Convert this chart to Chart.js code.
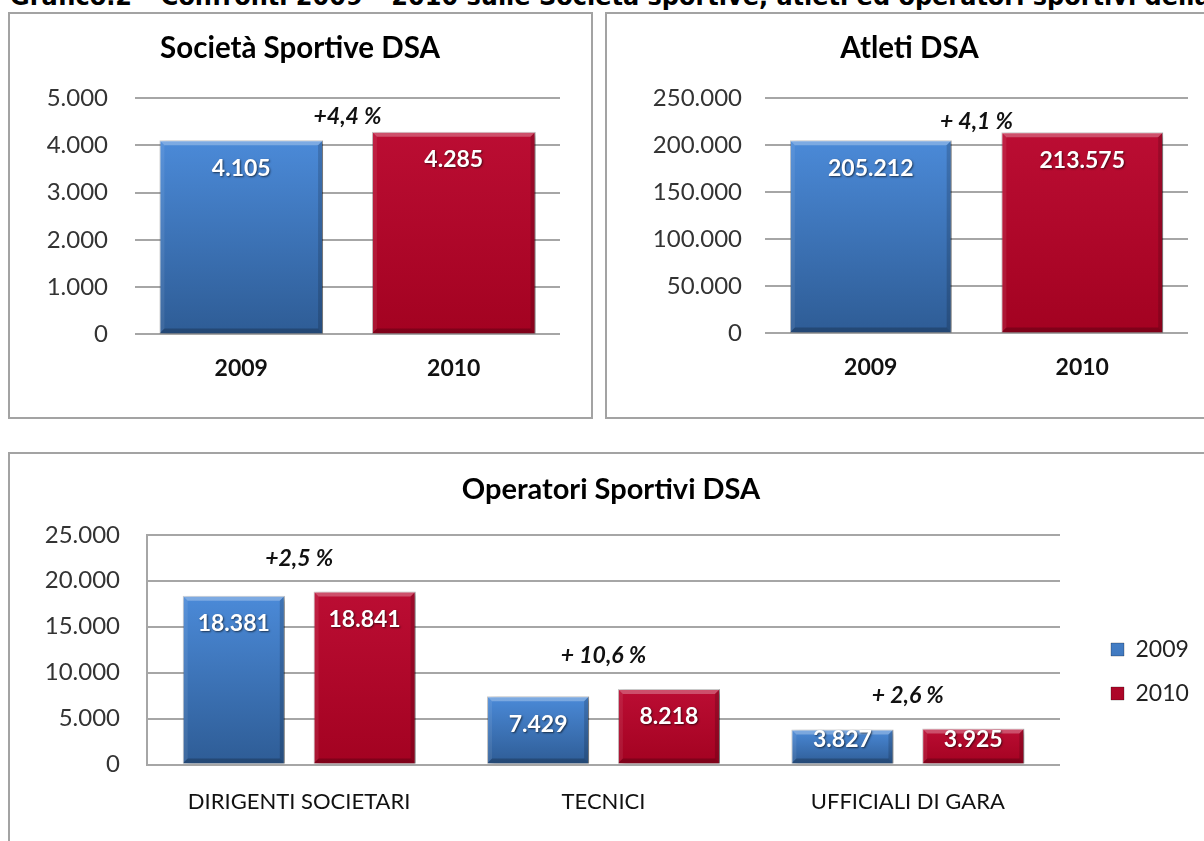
<!DOCTYPE html>
<html>
<head>
<meta charset="utf-8">
<script src="https://cdn.jsdelivr.net/npm/chart.js@4.4.0/dist/chart.umd.min.js"></script>
<style>
  body { margin: 0; width: 1204px; height: 841px; overflow: hidden; position: relative; background: #fff; }
  #head { position: absolute; left: 10px; top: -15px; font: bold 24px "DejaVu Sans"; line-height: 24px; white-space: nowrap; color: #000; }
  .box { position: absolute; border: 2px solid #a3a3a3; box-sizing: border-box; }
  canvas { position: absolute; }
</style>
</head>
<body>
<div id="head">Grafico.2 – Confronti 2009 – 2010 sulle Società sportive, atleti ed operatori sportivi della</div>
<div class="box" style="left:8px;top:12px;width:585px;height:407px"></div>
<div class="box" style="left:605px;top:12px;width:610px;height:407px"></div>
<div class="box" style="left:8px;top:452px;width:1207px;height:420px"></div>
<canvas id="c1" style="left:10px;top:14px" width="580" height="402"></canvas>
<canvas id="c2" style="left:607px;top:14px" width="605" height="402"></canvas>
<canvas id="c3" style="left:10px;top:454px" width="1202" height="390"></canvas>
<script>
const years = ['2009', '2010'];
const societaValues = [4105, 4285];
const societaChange = ['+4,4 %'];
const atletiValues = [205212, 213575];
const atletiChange = ['+ 4,1 %'];
const operatoriCategories = ['DIRIGENTI SOCIETARI', 'TECNICI', 'UFFICIALI DI GARA'];
const operatori2009 = [18381, 7429, 3827];
const operatori2010 = [18841, 8218, 3925];
const operatoriChange = ['+2,5 %', '+ 10,6 %', '+ 2,6 %'];
// [min, max, step] of the value axes
const societaAxis = [0, 5000, 1000];
const atletiAxis = [0, 250000, 50000];
const operatoriAxis = [0, 25000, 5000];

const BLUE = ['#4b8ad8', '#2e5c95'];
const RED = ['#bb0d33', '#a30221'];
const GRID = '#a6a6a6';

Chart.defaults.font.family = 'Lato';
Chart.defaults.animation = false;

function fmt(v) {
  return String(v).replace(/\B(?=(\d{3})+(?!\d))/g, '.');
}

function barFill(pick) {
  return function (ctx) {
    const colors = pick(ctx);
    if (ctx.type !== 'data') return colors[1];
    const y = ctx.chart.scales.y;
    const top = y.getPixelForValue(ctx.raw), bottom = y.getPixelForValue(0);
    if (!isFinite(top) || top >= bottom) return colors[0];
    const g = ctx.chart.ctx.createLinearGradient(0, top, 0, bottom);
    g.addColorStop(0, colors[0]);
    g.addColorStop(1, colors[1]);
    return g;
  };
}

// glossy bars: shadow, bevel edges and the value inside the bar
const barStyle = {
  id: 'barStyle',
  beforeDatasetsDraw(chart) {
    const ctx = chart.ctx;
    ctx.save();
    ctx.shadowColor = 'rgba(0,0,0,0.35)';
    ctx.shadowBlur = 5;
    ctx.shadowOffsetX = 3;
    ctx.shadowOffsetY = 2;
  },
  afterDatasetsDraw(chart) {
    const ctx = chart.ctx;
    ctx.restore();
    chart.data.datasets.forEach((ds, di) => {
      chart.getDatasetMeta(di).data.forEach((bar, i) => {
        const {x, y, base, width} = bar.getProps(['x', 'y', 'base', 'width'], true);
        const l = x - width / 2, r = x + width / 2, b = 5;
        const quad = (pts, color) => {
          ctx.fillStyle = color;
          ctx.beginPath();
          ctx.moveTo(pts[0], pts[1]);
          for (let k = 2; k < pts.length; k += 2) ctx.lineTo(pts[k], pts[k + 1]);
          ctx.closePath();
          ctx.fill();
        };
        quad([l, y, r, y, r - b, y + b, l + b, y + b], 'rgba(255,255,255,0.28)');
        quad([l, y, l + b, y + b, l + b, base - b, l, base], 'rgba(255,255,255,0.08)');
        quad([r, y, r, base, r - b, base - b, r - b, y + b], 'rgba(0,0,0,0.16)');
        quad([l, base, r, base, r - b, base - b, l + b, base - b], 'rgba(0,0,0,0.22)');

        ctx.save();
        ctx.font = 'bold 23px Lato';
        ctx.fillStyle = '#fff';
        ctx.textAlign = 'center';
        ctx.textBaseline = 'middle';
        ctx.shadowColor = 'rgba(0,0,0,0.6)';
        ctx.shadowBlur = 2;
        ctx.shadowOffsetX = 1;
        ctx.shadowOffsetY = 1;
        ctx.fillText(fmt(ds.data[i]), x, Math.min(y + 28, base - 24));
        ctx.restore();
      });
    });
  }
};

// percentage change written above the bars
const changeLabels = {
  id: 'change',
  afterDatasetsDraw(chart, args, opts) {
    if (!opts.texts) return;
    const ctx = chart.ctx, xs = chart.scales.x, ys = chart.scales.y;
    ctx.save();
    ctx.font = 'italic bold 23px Lato';
    ctx.fillStyle = '#111';
    ctx.textAlign = 'center';
    ctx.textBaseline = 'middle';
    opts.texts.forEach((t, i) => {
      let px, top;
      if (opts.between) {
        px = (xs.getPixelForValue(0) + xs.getPixelForValue(1)) / 2;
        top = Math.min(...chart.data.datasets[0].data.map(v => ys.getPixelForValue(v)));
      } else {
        px = xs.getPixelForValue(i);
        top = Math.min(...chart.data.datasets.map(d => ys.getPixelForValue(d.data[i])));
      }
      ctx.fillText(t, px, top - opts.offset);
    });
    ctx.restore();
  }
};

// legend to the right of the plot, title centred on the whole canvas
const placeBoxes = {
  id: 'placeBoxes',
  afterLayout(chart, args, opts) {
    const lg = chart.legend;
    if (lg && opts.left != null) {
      const w = lg.right - lg.left, h = lg.bottom - lg.top;
      lg.left = opts.left; lg.right = opts.left + w;
      lg.top = opts.top; lg.bottom = opts.top + h;
    }
    if (chart.titleBlock) {
      chart.titleBlock.left = 0;
      chart.titleBlock.right = chart.width;
    }
  }
};

function yScale(axis, width, pad, border) {
  return {
    min: axis[0], max: axis[1],
    ticks: { stepSize: axis[2], padding: pad, color: '#333', font: { size: 24 }, callback: v => fmt(v) },
    grid: { color: GRID, lineWidth: 2, drawTicks: false },
    border: { display: border, color: GRID, width: 2 },
    afterFit: s => { s.width = width; }
  };
}

function xScale(pad, bold, size) {
  return {
    grid: { display: false, drawTicks: false },
    border: { display: false },
    ticks: { padding: pad, color: '#111', font: { size: size, weight: bold ? 'bold' : 'normal' } }
  };
}

function title(text, size, top, bottom) {
  return { display: true, text: text, color: '#000', font: { size: size, weight: 'bold' }, padding: { top: top, bottom: bottom } };
}

new Chart(document.getElementById('c1'), {
  type: 'bar',
  data: {
    labels: years,
    datasets: [{
      data: societaValues,
      backgroundColor: barFill(c => c.dataIndex === 1 ? RED : BLUE),
      borderColor: 'rgba(0,0,0,0.25)',
      borderWidth: 1,
      barPercentage: 0.77,
      categoryPercentage: 1
    }]
  },
  options: {
    responsive: false,
    layout: { padding: { left: 20, right: 30, top: 0, bottom: 14 } },
    scales: { x: xScale(20, true, 23), y: yScale(societaAxis, 105, 27, false) },
    plugins: {
      legend: { display: false },
      tooltip: { enabled: false },
      title: title('Società Sportive DSA', 29.5, 16.3, 32.3),
      change: { texts: societaChange, offset: 15, between: true }
    }
  },
  plugins: [barStyle, changeLabels, placeBoxes]
});

new Chart(document.getElementById('c2'), {
  type: 'bar',
  data: {
    labels: years,
    datasets: [{
      data: atletiValues,
      backgroundColor: barFill(c => c.dataIndex === 1 ? RED : BLUE),
      borderColor: 'rgba(0,0,0,0.25)',
      borderWidth: 1,
      barPercentage: 0.765,
      categoryPercentage: 1
    }]
  },
  options: {
    responsive: false,
    layout: { padding: { left: 18, right: 24, top: 0, bottom: 15 } },
    scales: { x: xScale(20, true, 23), y: yScale(atletiAxis, 140, 23, false) },
    plugins: {
      legend: { display: false },
      tooltip: { enabled: false },
      title: title('Atleti DSA', 29.5, 16.3, 32.3),
      change: { texts: atletiChange, offset: 11, between: true }
    }
  },
  plugins: [barStyle, changeLabels, placeBoxes]
});

new Chart(document.getElementById('c3'), {
  type: 'bar',
  data: {
    labels: operatoriCategories,
    datasets: [{
      label: '2009',
      data: operatori2009,
      backgroundColor: barFill(() => BLUE),
      borderColor: 'rgba(0,0,0,0.25)',
      borderWidth: 1,
      barPercentage: 0.78,
      categoryPercentage: 0.86
    }, {
      label: '2010',
      data: operatori2010,
      backgroundColor: barFill(() => RED),
      borderColor: 'rgba(0,0,0,0.25)',
      borderWidth: 1,
      barPercentage: 0.78,
      categoryPercentage: 0.86
    }]
  },
  options: {
    responsive: false,
    layout: { padding: { left: 17, right: 152, top: 0, bottom: 5 } },
    scales: { x: xScale(24, false, 22), y: yScale(operatoriAxis, 120, 27, true) },
    plugins: {
      legend: {
        position: 'chartArea',
        align: 'start',
        labels: { boxWidth: 13, boxHeight: 13, padding: 21, color: '#222', font: { size: 23 } }
      },
      placeBoxes: { left: 1080, top: 163 },
      tooltip: { enabled: false },
      title: title('Operatori Sportivi DSA', 29, 18, 28),
      change: { texts: operatoriChange, offset: 33, between: false }
    }
  },
  plugins: [barStyle, changeLabels, placeBoxes]
});
</script>
</body>
</html>
